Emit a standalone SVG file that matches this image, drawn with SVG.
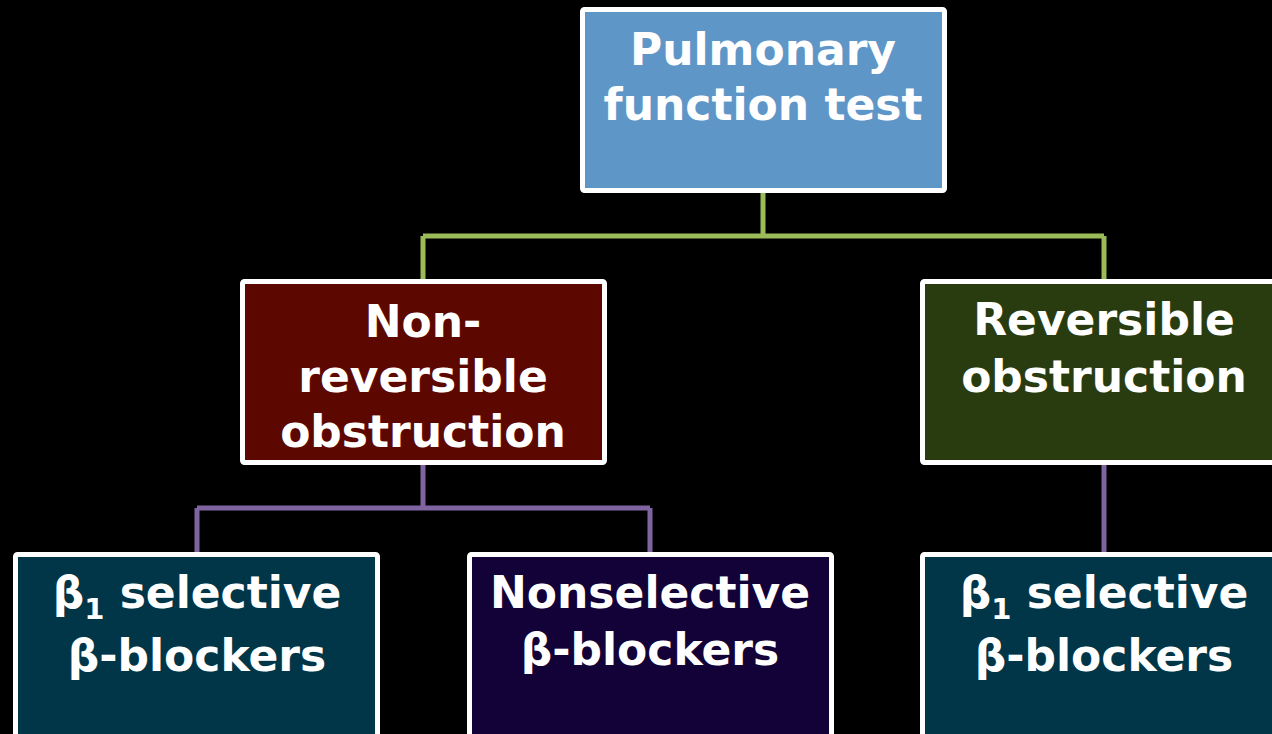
<svg xmlns="http://www.w3.org/2000/svg" width="1272" height="734" viewBox="0 0 1272 734">
<style>
.box{stroke:#ffffff;stroke-width:5}
.t{font-family:"DejaVu Sans","Open Sans",sans-serif;font-weight:bold;font-size:44px;fill:#ffffff;text-anchor:middle}
.sub{font-size:29px}
.g{fill:none;stroke:#9bbb59;stroke-width:5}
.p{fill:none;stroke:#8064a2;stroke-width:5}
</style>
<rect x="0" y="0" width="1272" height="734" fill="#000000"/>
<g id="connectors">
<path class="g" d="M763 193 V236 M423 236 H1104 M423 236 V279 M1104 236 V279"/>
<path class="p" d="M423 464 V508 M197 508 H650 M197 508 V552 M650 508 V552 M1104 463 V552"/>
</g>
<g id="pft">
<rect class="box" x="582.5" y="9.5" width="362" height="181" rx="2" fill="#5f96c8"/>
<text class="t" x="763" y="65">Pulmonary</text>
<text class="t" x="763" y="120">function test</text>
</g>
<g id="nonrev">
<rect class="box" x="242.5" y="281.5" width="362" height="181" rx="2" fill="#5c0800"/>
<text class="t" x="423" y="337">Non-</text>
<text class="t" x="423" y="392">reversible</text>
<text class="t" x="423" y="447">obstruction</text>
</g>
<g id="rev">
<rect class="box" x="922.5" y="281.5" width="362" height="181" rx="2" fill="#283c10"/>
<text class="t" x="1104" y="335">Reversible</text>
<text class="t" x="1104" y="392">obstruction</text>
</g>
<g id="b1left">
<rect class="box" x="15.5" y="554.5" width="362" height="200" rx="2" fill="#003648"/>
<text class="t" x="197" y="608">β<tspan class="sub" dy="11">1</tspan><tspan dy="-11"> selective</tspan></text>
<text class="t" x="197" y="671">β-blockers</text>
</g>
<g id="nonsel">
<rect class="box" x="469.5" y="554.5" width="362" height="200" rx="2" fill="#120238"/>
<text class="t" x="650" y="608">Nonselective</text>
<text class="t" x="650" y="665">β-blockers</text>
</g>
<g id="b1right">
<rect class="box" x="922.5" y="554.5" width="362" height="200" rx="2" fill="#003648"/>
<text class="t" x="1104" y="608">β<tspan class="sub" dy="11">1</tspan><tspan dy="-11"> selective</tspan></text>
<text class="t" x="1104" y="671">β-blockers</text>
</g>
</svg>
